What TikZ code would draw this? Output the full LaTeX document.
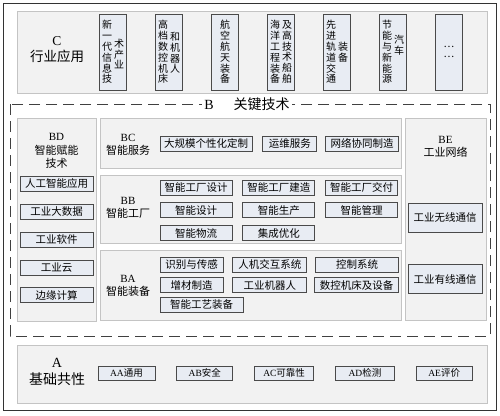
\documentclass[tikz,border=0pt]{standalone}
\usepackage{fontspec}
\setmainfont{Liberation Serif}
\newfontfamily\cjk{Noto Sans CJK SC}
\usetikzlibrary{positioning}
\XeTeXlinebreaklocale "zh"
\XeTeXlinebreakskip=0pt plus 1pt

\definecolor{panelgray}{HTML}{F2F2F2}
\definecolor{panelline}{HTML}{C4C4C4}
\definecolor{itemfill}{HTML}{E8ECF3}
\definecolor{itemline}{HTML}{4A4A4A}

\newcommand\ltn[1]{{\rmfamily #1}}

\tikzset{
  panel/.style={rectangle, draw=panelline, fill=panelgray, line width=0.8pt, anchor=north west, inner sep=0pt},
  item/.style={rectangle, draw=itemline, fill=itemfill, line width=0.8pt, minimum height=15pt, inner sep=1pt, font=\cjk\fontsize{10.5}{12}\selectfont},
  aitem/.style={item, minimum height=14pt, font=\cjk\fontsize{9.5}{11}\selectfont},
  vbox/.style={rectangle, draw=itemline, fill=itemfill, line width=0.8pt, minimum width=27pt, minimum height=76pt, inner sep=0pt},
  vcol/.style={inner sep=0pt, text width=11pt, align=center, font=\cjk\fontsize{10}{10.8}\selectfont},
  title/.style={align=center, inner sep=1pt, font=\cjk\fontsize{11}{13.5}\selectfont},
}

\begin{document}
\begin{tikzpicture}[x=1pt, y=-1pt]
  \useasboundingbox (0,0) rectangle (500,415);
  \draw[line width=1pt, black!80] (3,3) rectangle (496,410);

  % C  industry applications
  \node[panel, minimum width=470pt, minimum height=82pt] (C) at (17,11) {};
  \node[title, font=\cjk\fontsize{13.5}{16}\selectfont] (Ct) at (57,50) {\ltn{C}\\行业应用};

  \node[vbox] (c1) at (113,52) {};
  \node[vcol] (c1a) at ([xshift=-6pt]c1.center) {新一代信息技};
  \node[vcol] (c1b) at ([xshift=6pt,yshift=-2pt]c1.center) {术产业};
  \node[vbox] (c2) at (169,52) {};
  \node[vcol] (c2a) at ([xshift=-6pt]c2.center) {高档数控机床};
  \node[vcol] (c2b) at ([xshift=6pt,yshift=-1pt]c2.center) {和机器人};
  \node[vbox] (c3) at (225,52) {};
  \node[vcol] (c3a) at (c3.center) {航空航天装备};
  \node[vbox] (c4) at (281,52) {};
  \node[vcol] (c4a) at ([xshift=-6pt]c4.center) {海洋工程装备};
  \node[vcol] (c4b) at ([xshift=6pt]c4.center) {及高技术船舶};
  \node[vbox] (c5) at (337,52) {};
  \node[vcol] (c5a) at ([xshift=-6pt]c5.center) {先进轨道交通};
  \node[vcol] (c5b) at ([xshift=6pt]c5.center) {装备};
  \node[vbox] (c6) at (393,52) {};
  \node[vcol] (c6a) at ([xshift=-6pt]c6.center) {节能与新能源};
  \node[vcol] (c6b) at ([xshift=6pt,yshift=7pt]c6.center) {汽车};
  \node[vbox] (c7) at (449,52) {};
  \node[vcol] (c7a) at (c7.center) {…\\…};

  % B  key technologies
  \draw[line width=1pt, dash pattern=on 11pt off 6pt, black!75] (10,104) rectangle (490,336);
  \node[fill=white, inner sep=2pt, font=\cjk\fontsize{14}{16}\selectfont] (Bt) at (247,104) {\ltn{B}\hspace{20pt}关键技术};

  \node[panel, minimum width=79pt, minimum height=203pt] (BD) at (17,118) {};
  \node[panel, minimum width=301pt, minimum height=50pt] (BC) at (100,118) {};
  \node[panel, minimum width=301pt, minimum height=68pt] (BB) at (100,175) {};
  \node[panel, minimum width=301pt, minimum height=70pt] (BA) at (100,250) {};
  \node[panel, minimum width=81pt, minimum height=202pt] (BE) at (405,118) {};

  \node[title] (BDt) at (56.5,151) {\ltn{BD}\\智能赋能\\技术};
  \node[title] (BCt) at (128,145) {\ltn{BC}\\智能服务};
  \node[title] (BBt) at (128,208) {\ltn{BB}\\智能工厂};
  \node[title] (BAt) at (128,286) {\ltn{BA}\\智能装备};
  \node[title] (BEt) at (445.5,147) {\ltn{BE}\\工业网络};

  \node[item, minimum width=73pt] (bd1) at (56.5,184) {人工智能应用};
  \node[item, minimum width=73pt, below=12pt of bd1] (bd2) {工业大数据};
  \node[item, minimum width=73pt, below=12pt of bd2] (bd3) {工业软件};
  \node[item, minimum width=73pt, below=12pt of bd3] (bd4) {工业云};
  \node[item, minimum width=73pt, below=12pt of bd4] (bd5) {边缘计算};

  \node[item, minimum width=92pt] (bc1) at (206,143.5) {大规模个性化定制};
  \node[item, minimum width=54pt, right=10pt of bc1] (bc2) {运维服务};
  \node[item, minimum width=73pt, right=8pt of bc2] (bc3) {网络协同制造};

  \node[item, minimum width=72pt] (bb1) at (196,187.5) {智能工厂设计};
  \node[item, minimum width=72pt, right=10pt of bb1] (bb2) {智能工厂建造};
  \node[item, minimum width=72pt, right=10pt of bb2] (bb3) {智能工厂交付};
  \node[item, minimum width=72pt, below=7pt of bb1] (bb4) {智能设计};
  \node[item, minimum width=72pt, right=10pt of bb4] (bb5) {智能生产};
  \node[item, minimum width=72pt, right=10pt of bb5] (bb6) {智能管理};
  \node[item, minimum width=72pt, below=7pt of bb4] (bb7) {智能物流};
  \node[item, minimum width=72pt, right=10pt of bb7] (bb8) {集成优化};

  \node[item, minimum width=63pt] (ba1) at (191.5,264.5) {识别与传感};
  \node[item, minimum width=74pt, right=9pt of ba1] (ba2) {人机交互系统};
  \node[item, minimum width=83pt, right=8pt of ba2] (ba3) {控制系统};
  \node[item, minimum width=63pt, below=5pt of ba1] (ba4) {增材制造};
  \node[item, minimum width=74pt, right=9pt of ba4] (ba5) {工业机器人};
  \node[item, minimum width=84pt, right=7pt of ba5] (ba6) {数控机床及设备};
  \node[item, minimum width=83pt] (ba7) at (201.5,305) {智能工艺装备};

  \node[item, minimum width=74pt, minimum height=29pt] (be1) at (445,217.5) {工业无线通信};
  \node[item, minimum width=74pt, minimum height=29pt, below=32pt of be1] (be2) {工业有线通信};

  % A  common basics
  \node[panel, minimum width=470pt, minimum height=58pt] (A) at (17,345) {};
  \node[title, font=\cjk\fontsize{14}{17}\selectfont] (At) at (57,372) {\ltn{A}\\基础共性};
  \node[aitem, minimum width=57pt] (aa) at (126.5,373) {\ltn{AA}通用};
  \node[aitem, minimum width=56pt, right=21pt of aa] (ab) {\ltn{AB}安全};
  \node[aitem, minimum width=59pt, right=21pt of ab] (ac) {\ltn{AC}可靠性};
  \node[aitem, minimum width=59pt, right=21pt of ac] (ad) {\ltn{AD}检测};
  \node[aitem, minimum width=56pt, right=21pt of ad] (ae) {\ltn{AE}评价};
\end{tikzpicture}
\end{document}
